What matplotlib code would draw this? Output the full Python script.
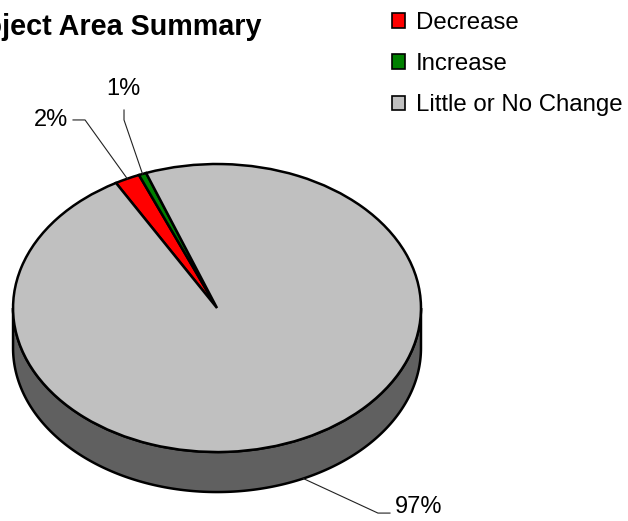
import numpy as np
import matplotlib
matplotlib.use("Agg")
import matplotlib.pyplot as plt
from matplotlib.patches import Polygon

plt.rcParams["font.family"] = ["Liberation Sans", "DejaVu Sans"]

# Data
categories = ["Decrease", "Increase", "Little or No Change"]
shares = [2.0, 0.6, 97.4]
pct_labels = ["2%", "1%", "97%"]
top_colors = ["#FF0000", "#008000", "#C0C0C0"]
side_colors = ["#800000", "#004000", "#606060"]

start_angle = 119.7   # degrees, wedges run clockwise
depth = 0.278         # pie thickness in y units of the unit circle

# Figure: axes fill the whole canvas, unit circle is squashed into an ellipse
fig = plt.figure(figsize=(6.28, 5.21), dpi=100)
ax = fig.add_axes([0, 0, 1, 1])

fracs = np.array(shares) / np.sum(shares)
ends = start_angle - 360 * np.cumsum(fracs)
starts = np.concatenate([[start_angle], ends[:-1]])

# Side walls (only the front half, 180..360 deg, is visible)
for a0, a1, col in zip(starts, ends, side_colors):
    lo, hi = min(a0, a1), max(a0, a1)
    for shift in (-360, 0, 360):
        s = max(lo + shift, -180)
        e = min(hi + shift, 0)
        if e <= s:
            continue
        t = np.radians(np.linspace(s, e, 200))
        xs = np.cos(t)
        ys = np.sin(t)
        pts = np.column_stack([np.concatenate([xs, xs[::-1]]),
                               np.concatenate([ys, ys[::-1] - depth])])
        ax.add_patch(Polygon(pts, closed=True, facecolor=col,
                             edgecolor="black", linewidth=1.8, zorder=1))

# Top face
wedges, _ = ax.pie(
    shares,
    colors=top_colors,
    startangle=start_angle,
    counterclock=False,
    radius=1,
    wedgeprops=dict(edgecolor="black", linewidth=1.8),
)
for w in wedges:
    w.set_zorder(2)

# Percent labels with elbow leader lines
mids = np.radians((starts + ends) / 2)
label_text_pos = [(-0.730, 1.306), (-0.461, 1.445), (0.873, -1.382)]
label_ha = ["right", "center", "left"]
label_va = ["center", "bottom", "center"]
leader_start = [(-0.706, 1.306), (-0.456, 1.375), (0.848, -1.424)]
leader_elbow = [(-0.647, 1.306), (-0.456, 1.306), (0.789, -1.424)]
on_side = [False, False, True]

for i, lab in enumerate(pct_labels):
    ax_x = np.cos(mids[i])
    ax_y = np.sin(mids[i]) - (depth if on_side[i] else 0)
    xs = [leader_start[i][0], leader_elbow[i][0], ax_x]
    ys = [leader_start[i][1], leader_elbow[i][1], ax_y]
    ax.plot(xs, ys, color="#222222", linewidth=0.8, zorder=3)
    ax.text(label_text_pos[i][0], label_text_pos[i][1], lab,
            ha=label_ha[i], va=label_va[i], fontsize=17, color="black")

ax.set_aspect("auto")
ax.set_xlim(-1.064, 2.015)
ax.set_ylim(-1.479, 2.139)
ax.axis("off")

# Title (left part runs off the canvas, as in the source)
fig.text(262 / 628, 1 - 35 / 521, "Project Area Summary", ha="right",
         va="baseline", fontsize=20.7, fontweight="bold")

# Legend
leg = ax.legend(
    wedges, categories,
    loc="upper left", bbox_to_anchor=(392 / 628, 1 - 12 / 521),
    bbox_transform=fig.transFigure,
    frameon=False, fontsize=17.3, borderpad=0, borderaxespad=0,
    handlelength=0.55, handleheight=0.55, handletextpad=0.45,
    labelspacing=0.8,
)
for h in leg.legend_handles:
    h.set_linewidth(1.2)

fig.savefig("out.png", dpi=100)
